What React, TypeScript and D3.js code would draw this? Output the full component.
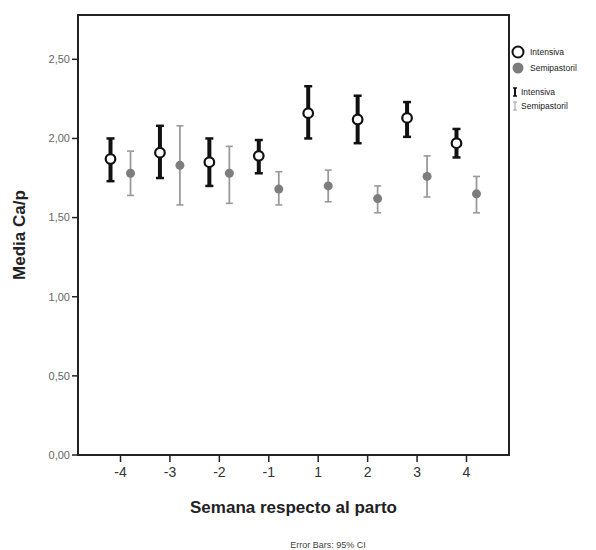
import * as d3 from 'd3'

const weeks = ['-4', '-3', '-2', '-1', '1', '2', '3', '4']
const intensivaMean = [1.87, 1.91, 1.85, 1.89, 2.16, 2.12, 2.13, 1.97]
const intensivaLow = [1.73, 1.75, 1.70, 1.78, 2.00, 1.97, 2.01, 1.88]
const intensivaHigh = [2.00, 2.08, 2.00, 1.99, 2.33, 2.27, 2.23, 2.06]
const semiMean = [1.78, 1.83, 1.78, 1.68, 1.70, 1.62, 1.76, 1.65]
const semiLow = [1.64, 1.58, 1.59, 1.58, 1.60, 1.53, 1.63, 1.53]
const semiHigh = [1.92, 2.08, 1.95, 1.79, 1.80, 1.70, 1.89, 1.76]
const yTicks = [0, 0.5, 1, 1.5, 2, 2.5]

const width = 596
const height = 550
const margin = { top: 15, right: 87, bottom: 95, left: 78 }
const innerW = width - margin.left - margin.right
const innerH = height - margin.top - margin.bottom
const font = 'Arial, "Liberation Sans", sans-serif'

export default function App() {
  const x = d3.scalePoint<string>().domain(weeks).range([0, innerW]).padding(0.86)
  const y = d3.scaleLinear().domain([0, 2.78]).range([innerH, 0])
  const fmt = (v: number) => v.toFixed(2).replace('.', ',')
  const off = 10

  return (
    <svg width={width} height={height} style={{ position: 'absolute', left: 0, top: 0, background: '#fff' }}>
      <g transform={`translate(${margin.left},${margin.top})`}>
        <rect x={0} y={0} width={innerW} height={innerH} fill="none" stroke="#222" strokeWidth={2} />
        {yTicks.map(t => (
          <g key={t} transform={`translate(0,${y(t)})`}>
            <line x1={-6} x2={0} stroke="#222" strokeWidth={1.5} />
            <text x={-8} dy="0.35em" textAnchor="end" fontSize={11} fill="#666" fontFamily={font}>{fmt(t)}</text>
          </g>
        ))}
        {weeks.map(w => (
          <g key={w} transform={`translate(${x(w)},${innerH})`}>
            <line y1={0} y2={7} stroke="#222" strokeWidth={1.5} />
            <text y={22} textAnchor="middle" fontSize={14} fill="#333" fontFamily={font}>{w}</text>
          </g>
        ))}
        {/* Semipastoril */}
        {weeks.map((w, i) => {
          const cx = (x(w) ?? 0) + off
          return (
            <g key={'s' + w}>
              <line x1={cx} x2={cx} y1={y(semiLow[i])} y2={y(semiHigh[i])} stroke="#9a9a9a" strokeWidth={1.8} />
              <line x1={cx - 3.5} x2={cx + 3.5} y1={y(semiLow[i])} y2={y(semiLow[i])} stroke="#9a9a9a" strokeWidth={1.6} />
              <line x1={cx - 3.5} x2={cx + 3.5} y1={y(semiHigh[i])} y2={y(semiHigh[i])} stroke="#9a9a9a" strokeWidth={1.6} />
              <circle cx={cx} cy={y(semiMean[i])} r={4.5} fill="#7d7d7d" />
            </g>
          )
        })}
        {/* Intensiva */}
        {weeks.map((w, i) => {
          const cx = (x(w) ?? 0) - off
          return (
            <g key={'i' + w}>
              <line x1={cx} x2={cx} y1={y(intensivaLow[i])} y2={y(intensivaHigh[i])} stroke="#111" strokeWidth={4} />
              <line x1={cx - 4} x2={cx + 4} y1={y(intensivaLow[i])} y2={y(intensivaLow[i])} stroke="#111" strokeWidth={2.5} />
              <line x1={cx - 4} x2={cx + 4} y1={y(intensivaHigh[i])} y2={y(intensivaHigh[i])} stroke="#111" strokeWidth={2.5} />
              <circle cx={cx} cy={y(intensivaMean[i])} r={4.8} fill="#fff" stroke="#111" strokeWidth={2.2} />
            </g>
          )
        })}
      </g>
      {/* Legend */}
      <g fontFamily={font} fontSize={8.5} fill="#222">
        <circle cx={518} cy={52} r={5.5} fill="#fff" stroke="#111" strokeWidth={2} />
        <text x={530} y={55}>Intensiva</text>
        <circle cx={518} cy={68} r={5.5} fill="#7d7d7d" />
        <text x={530} y={71}>Semipastoril</text>
        <line x1={515} x2={515} y1={88} y2={96} stroke="#111" strokeWidth={2} />
        <line x1={513} x2={517} y1={88} y2={88} stroke="#111" strokeWidth={1.5} />
        <line x1={513} x2={517} y1={96} y2={96} stroke="#111" strokeWidth={1.5} />
        <text x={521} y={95}>Intensiva</text>
        <line x1={515} x2={515} y1={102} y2={110} stroke="#9a9a9a" strokeWidth={1} />
        <line x1={513} x2={517} y1={102} y2={102} stroke="#9a9a9a" strokeWidth={1} />
        <line x1={513} x2={517} y1={110} y2={110} stroke="#9a9a9a" strokeWidth={1} />
        <text x={521} y={109}>Semipastoril</text>
      </g>
      <text transform={`translate(25,${margin.top + innerH / 2}) rotate(-90)`} textAnchor="middle" fontSize={17} fontWeight="bold" fill="#222" fontFamily={font}>Media Ca/p</text>
      <text x={margin.left + innerW / 2} y={513} textAnchor="middle" fontSize={17} fontWeight="bold" fill="#222" fontFamily={font}>Semana respecto al parto</text>
      <text x={328} y={548} textAnchor="middle" fontSize={9} fill="#444" fontFamily={font}>Error Bars: 95% CI</text>
    </svg>
  )
}
